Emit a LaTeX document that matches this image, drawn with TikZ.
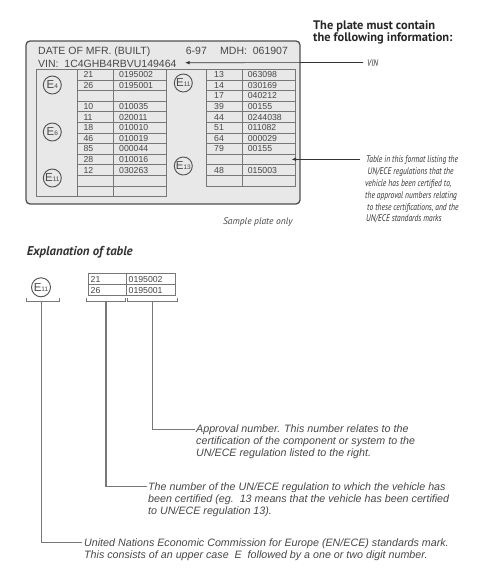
\documentclass[tikz,border=0pt]{standalone}
\usepackage{fontspec}
\setmainfont{Liberation Sans}
\newfontfamily\headfont{PT Sans}
\newfontfamily\condfont{PT Sans}[FakeStretch=0.78]
\usetikzlibrary{arrows.meta,calc}
\definecolor{txt}{HTML}{474747}
\definecolor{plate}{HTML}{E8E8E8}
\definecolor{edge}{HTML}{505050}
\definecolor{gridc}{HTML}{777777}
\tikzset{
  platetxt/.style={font=\fontsize{10.5}{12}\selectfont, text=txt, inner sep=0pt, anchor=base west},
  cell/.style={font=\fontsize{8.7}{10}\selectfont, text=txt, inner sep=0pt, anchor=west},
  emark/.style={circle, draw=edge, line width=0.9pt, minimum size=18pt, inner sep=0pt, text=txt, font=\fontsize{11.5}{11.5}\selectfont},
  gridline/.style={draw=gridc, line width=0.7pt},
  gridthick/.style={draw=gridc, line width=1.1pt},
  note/.style={font=\condfont\itshape\fontsize{9.6}{11}\selectfont, text=black!80, inner sep=0pt, anchor=base west},
  expl/.style={font=\itshape\fontsize{10.7}{12}\selectfont, text=txt, inner sep=0pt, anchor=base west},
  lead/.style={draw=gridc, line width=1.3pt},
  ptr/.style={draw=black!80, line width=0.7pt, {Latex[length=4.5pt,width=3.5pt]}-},
  heading/.style={font=\headfont\bfseries\fontsize{12.4}{14}\selectfont, text=black!85, inner sep=0pt, anchor=base west}
}
\newcommand{\emk}[1]{E{\fontsize{6.5}{6.5}\selectfont #1}}
\begin{document}
\begin{tikzpicture}[x=1pt,y=-1pt]
\useasboundingbox (0,0) rectangle (500,579);
\fill[white] (0,0) rectangle (500,579);

% heading
\node[heading] (h1) at (313,29.5) {The plate must contain};
\node[heading] (h2) at (313,41.5) {the following information:};

% plate
\draw[edge, fill=plate, line width=1.3pt, rounded corners=4pt] (26,41) rectangle (300,204);
\node[platetxt] (date) at (38,54) {DATE OF MFR. (BUILT)};
\node[platetxt] (yr) at (185.7,54) {6-97};
\node[platetxt] (mdh) at (220,54) {MDH:\ \ 061907};
\node[platetxt] (vin) at (38,67) {VIN:\ \ 1C4GHB4RBVU149464};

% table frames
\draw[gridline] (36,69.3) rectangle (166,196.5);
\draw[gridline] (77.3,69.3) -- (77.3,196.5);
\draw[gridline] (113.7,69.3) -- (113.7,196.5);
\draw[gridline] (166,69.3) -- (206.7,69.3);
\draw[gridline] (206.7,69.3) rectangle (295,185.9);
\draw[gridline] (242.7,69.3) -- (242.7,185.9);
\foreach \i in {1,2,4,5,6,7,9,11}
  \draw[gridline] (77.3,69.3+\i*10.6) -- (166,69.3+\i*10.6);
\foreach \i in {3,8,10}
  \draw[gridthick] (77.3,69.3+\i*10.6) -- (166,69.3+\i*10.6);
\foreach \i in {1,...,10}
  \draw[gridline] (206.7,69.3+\i*10.6) -- (295,69.3+\i*10.6);

\foreach \r/\n/\a in {0/21/0195002,1/26/0195001,3/10/010035,4/11/020011,5/18/010010,6/46/010019,7/85/000044,8/28/010016,9/12/030263}{
  \node[cell] (ln\r) at (83.3,69.3+\r*10.6+5.5) {\n};
  \node[cell] (la\r) at (119,69.3+\r*10.6+5.5) {\a};
}
\foreach \r/\n/\a in {0/13/063098,1/14/030169,2/17/040212,3/39/00155,4/44/0244038,5/51/011082,6/64/000029,7/79/00155,9/48/015003}{
  \node[cell] (rn\r) at (214,69.3+\r*10.6+5.5) {\n};
  \node[cell] (ra\r) at (247.7,69.3+\r*10.6+5.5) {\a};
}

% E marks
\node[emark] (e4) at (52.3,85) {\emk{4}};
\node[emark] (e6) at (52.3,132) {\emk{6}};
\node[emark] (e11a) at (52.3,178) {\emk{11}};
\node[emark] (e11b) at (183.3,83) {\emk{11}};
\node[emark] (e13) at (183.3,166) {\emk{13}};

% right notes
\coordinate (vintip) at (185,62.7);
\node[note] (vinlbl) at (367,66.2) {VIN};
\draw[ptr] (vintip) -- ($(vinlbl.west)+(-4,-0.3)$);

\node[note] (t1) at (366,162.8) {Table in this format listing the};
\node[note] (t2) at ($(t1.base west)+(1.5,11.8)$) {UN/ECE regulations that the};
\node[note] (t3) at ($(t1.base west)+(-1,23.6)$) {vehicle has been certified to,};
\node[note] (t4) at ($(t1.base west)+(-1,35.4)$) {the approval numbers relating};
\node[note] (t5) at ($(t1.base west)+(1,47.2)$) {to these certifications, and the};
\node[note] (t6) at ($(t1.base west)+(0,59)$) {UN/ECE standards marks};
\coordinate (tbltip) at (291.5,159.3);
\draw[ptr] (tbltip) -- (360,159.3);

\node[font=\headfont\itshape\fontsize{9.5}{11}\selectfont, text=txt, inner sep=0pt, anchor=base west] (sample) at (223,224) {Sample plate only};

% explanation
\node[font=\headfont\bfseries\itshape\fontsize{12.8}{14}\selectfont, text=black!80, inner sep=0pt, anchor=base west] (expt) at (26.7,255) {Explanation of table};

\node[emark, minimum size=19pt] (ex) at (41,287.3) {\emk{11}};
\draw[gridline] (88.3,273.3) rectangle (175,295);
\draw[gridline] (126,273.3) -- (126,295);
\draw[gridline] (88.3,284.3) -- (175,284.3);
\node[cell] (xn0) at (90.5,279) {21};
\node[cell] (xa0) at (128.5,279) {0195002};
\node[cell] (xn1) at (90.5,290) {26};
\node[cell] (xa1) at (128.5,290) {0195001};

% brackets
\draw[lead, line width=1pt] (26.7,297.5) -- (26.7,301) -- (59.3,301) -- (59.3,297.5);
\draw[lead, line width=1pt] (86.7,297.5) -- (86.7,301) -- (125,301) -- (125,297.5);
\draw[lead, line width=1pt] (127.3,297.5) -- (127.3,301) -- (177.3,301) -- (177.3,297.5);
\coordinate (b1) at (41.5,301);
\coordinate (b2) at (106,301);
\coordinate (b3) at (152.5,301);

% explanation texts
\node[expl] (a1) at (196,432.5) {Approval number. This number relates to the};
\node[expl] (a2) at ($(a1.base west)+(0,12.2)$) {certification of the component or system to the};
\node[expl] (a3) at ($(a1.base west)+(0,24.4)$) {UN/ECE regulation listed to the right.};

\node[expl] (n1) at (148,490) {The number of the UN/ECE regulation to which the vehicle has};
\node[expl] (n2) at ($(n1.base west)+(0,12.2)$) {been certified (eg.\ \ 13 means that the vehicle has been certified};
\node[expl] (n3) at ($(n1.base west)+(0,24.4)$) {to UN/ECE regulation 13).};

\node[expl] (u1) at (84,546) {United Nations Economic Commission for Europe (EN/ECE) standards mark.};
\node[expl] (u2) at ($(u1.base west)+(0,12.2)$) {This consists of an upper case\ \ E\ \ followed by a one or two digit number.};

\draw[lead] (b3) |- ($(a1.base west)+(-1,-3.2)$);
\draw[lead] (b2) |- ($(n1.base west)+(-1,-3.2)$);
\draw[lead] (b1) |- ($(u1.base west)+(-2.5,-3.2)$);
\end{tikzpicture}
\end{document}
